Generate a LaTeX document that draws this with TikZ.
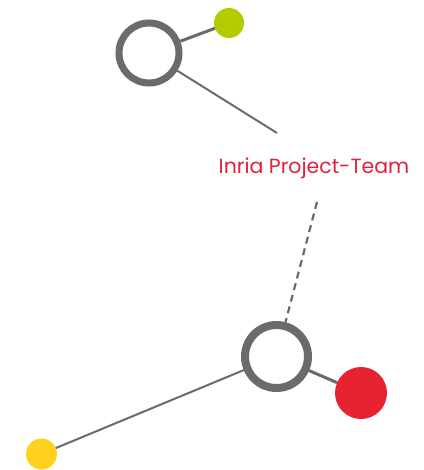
\documentclass[tikz,border=0pt]{standalone}
\usepackage{fontspec}
\newfontfamily\labelfont{Poppins}
\definecolor{ringgray}{HTML}{6B6B6B}
\definecolor{dotgreen}{HTML}{B3CC00}
\definecolor{dotred}{HTML}{E8232F}
\definecolor{dotyellow}{HTML}{FFD21F}
\definecolor{textred}{HTML}{E2203F}
\begin{document}
\begin{tikzpicture}[x=1pt,y=-1pt,
  ring/.style={circle,draw=ringgray,fill=white,inner sep=0pt},
  dot/.style={circle,inner sep=0pt,outer sep=0pt},
  link/.style={draw=ringgray,line width=2pt},
  thicklink/.style={draw=ringgray,line width=3pt},
  dashlink/.style={draw=ringgray,line width=2.2pt,dash pattern=on 7pt off 5pt}]
\useasboundingbox (0,0) rectangle (423,470);
\fill[white] (0,0) rectangle (423,470);
% coordinates
\coordinate (topend) at (277,133);
\coordinate (dashstart) at (317,202);
% nodes
\node[dot,fill=dotgreen,minimum size=30pt] (green) at (229,23) {};
\node[dot,fill=dotred,minimum size=52pt] (red) at (361,393) {};
\node[dot,fill=dotyellow,minimum size=31pt] (yellow) at (41.5,454) {};
\node[ring,line width=7pt,minimum size=60pt] (top) at (149,53) {};
\node[ring,line width=8pt,minimum size=63pt] (bottom) at (276.5,356.5) {};
\node[text=textred,font=\labelfont\fontsize{20.5}{24}\selectfont,inner sep=0pt] (label) at (314,168) {Inria Project-Team};
% connectors
\draw[thicklink] (top) -- (green);
\draw[link] (top) -- (topend);
\draw[dashlink] (dashstart) -- (bottom);
\draw[thicklink] (bottom) -- (red);
\draw[link] (bottom) -- (yellow);
\end{tikzpicture}
\end{document}
